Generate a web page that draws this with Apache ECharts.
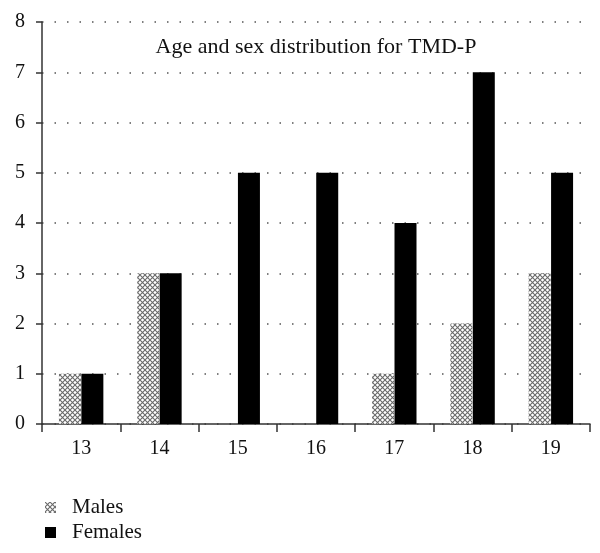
<!DOCTYPE html>
<html><head><meta charset="utf-8">
<script src="https://cdn.jsdelivr.net/npm/echarts@6/dist/echarts.min.js"></script>
<style>html,body{margin:0;padding:0;background:#fff}#c{width:600px;height:553px}</style>
</head><body><div id="c"></div>
<script>
const categories = ['13','14','15','16','17','18','19'];
const males = [1,3,0,0,1,2,3];
const females = [1,3,5,5,4,7,5];
const yTicks = [0,1,2,3,4,5,6,7,8];

function hatch(){
  const c = document.createElement('canvas');
  c.width = 5; c.height = 5;
  const g = c.getContext('2d');
  g.fillStyle = '#fff'; g.fillRect(0,0,5,5);
  g.strokeStyle = '#6a6a6a'; g.lineWidth = 1.1;
  g.beginPath();
  g.moveTo(0,0); g.lineTo(5,5);
  g.moveTo(5,0); g.lineTo(0,5);
  g.stroke();
  return c;
}
const hatchColor = {image: hatch(), repeat: 'repeat'};
const font = '"Liberation Serif", "DejaVu Serif", serif';

const chart = echarts.init(document.getElementById('c'));
chart.setOption({
  animation: false,
  title: {text: 'Age and sex distribution for TMD-P', left: 311, top: 31, textAlign: 'center',
    textStyle: {fontFamily: font, fontWeight: 'normal', fontSize: 22, color: '#111'}},
  legend: {orient: 'vertical', left: 40, top: 492, itemWidth: 11, itemHeight: 11, itemGap: 4,
    textStyle: {fontFamily: font, fontSize: 21, color: '#111', padding: [0,0,0,11]},
    data: [{name: 'Males', icon: 'rect'}, {name: 'Females', icon: 'rect'}]},
  grid: {left: 42, right: 10, top: 22, bottom: 129, containLabel: false},
  xAxis: {type: 'category', data: categories,
    axisLine: {lineStyle: {color: '#333', width: 1.5}},
    axisTick: {show: true, length: 8, lineStyle: {color: '#333', width: 1.5}},
    axisLabel: {fontFamily: font, fontSize: 20, color: '#111', margin: 15}},
  yAxis: {type: 'value', min: 0, max: 8, interval: 1,
    axisLine: {show: true, lineStyle: {color: '#333', width: 1.5}},
    axisTick: {show: true, length: 6, lineStyle: {color: '#333', width: 1.5}},
    axisLabel: {fontFamily: font, fontSize: 20, color: '#111', margin: 17},
    splitLine: {show: true, lineStyle: {color: '#555', type: [1.5, 11], width: 1.5}}},
  series: [
    {name: 'Males', type: 'bar', data: males, barWidth: 22, barGap: '2%',
      itemStyle: {color: hatchColor}},
    {name: 'Females', type: 'bar', data: females, barWidth: 22,
      itemStyle: {color: '#000'}}
  ]
});
</script></body></html>
